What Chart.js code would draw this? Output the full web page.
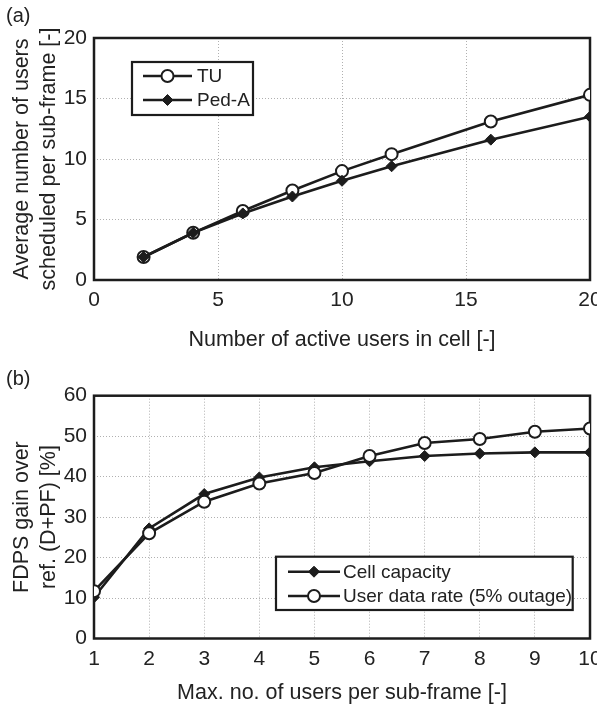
<!DOCTYPE html>
<html>
<head>
<meta charset="utf-8">
<script src="https://cdn.jsdelivr.net/npm/chart.js@4"></script>
<style>
body { margin: 0; width: 597px; height: 709px; overflow: hidden; background: #fff; position: relative; font-family: "Liberation Sans", Arial, sans-serif; }
canvas { position: absolute; left: 0; }
.lab { position: absolute; left: 6px; font-size: 20px; color: #222; }
</style>
</head>
<body>
<canvas id="chartA" width="620" height="360" style="top:0"></canvas>
<canvas id="chartB" width="620" height="353" style="top:356px"></canvas>
<div class="lab" style="top:4px">(a)</div>
<div class="lab" style="top:367px">(b)</div>
<script>
// (a) scheduled users vs active users
var activeUsers = [2, 4, 6, 8, 10, 12, 16, 20];
var tuUsers = [1.9, 3.9, 5.7, 7.4, 9.0, 10.4, 13.1, 15.3];
var pedAUsers = [1.9, 3.9, 5.5, 6.9, 8.2, 9.4, 11.6, 13.5];

// (b) FDPS gain vs max users per sub-frame
var maxUsers = [1, 2, 3, 4, 5, 6, 7, 8, 9, 10];
var cellCapacity = [10.2, 27.2, 35.7, 39.8, 42.3, 43.8, 45.1, 45.7, 46.0, 46.0];
var userRate = [11.7, 26.0, 33.8, 38.3, 40.9, 45.1, 48.3, 49.3, 51.1, 51.9];

var ink = '#1c1c1c';
var textCol = '#222';

function pts(xs, ys) {
    return xs.map(function(x, i) { return {x: x, y: ys[i]}; });
}

function circleSet(label, data, order) {
    return {
        label: label, data: data, order: order,
        borderColor: ink, borderWidth: 2.6,
        pointStyle: 'circle', pointRadius: 6, pointBorderWidth: 2,
        pointBackgroundColor: '#fff', pointBorderColor: ink
    };
}

function diamondSet(label, data, order) {
    return {
        label: label, data: data, order: order,
        borderColor: ink, borderWidth: 2.6,
        pointStyle: 'rectRot', pointRadius: 5.5, pointBorderWidth: 1,
        pointBackgroundColor: ink, pointBorderColor: ink
    };
}

// frame round the plot area + boxed legend inside it
var framePlugin = {
    id: 'frame',
    beforeDatasetsDraw: function(chart) {
        var a = chart.chartArea, ctx = chart.ctx;
        ctx.save();
        ctx.strokeStyle = ink;
        ctx.lineWidth = 2.5;
        ctx.strokeRect(a.left, a.top, a.right - a.left, a.bottom - a.top);
        ctx.restore();
    },
    afterDatasetsDraw: function(chart, args, opts) {
        var ctx = chart.ctx, b = opts.box;
        ctx.save();
        ctx.fillStyle = '#fff';
        ctx.fillRect(b[0], b[1], b[2], b[3]);
        ctx.strokeStyle = ink;
        ctx.lineWidth = 2.2;
        ctx.strokeRect(b[0], b[1], b[2], b[3]);
        chart.data.datasets.forEach(function(ds, i) {
            var y = opts.rows[i];
            ctx.strokeStyle = ink;
            ctx.lineWidth = 2.6;
            ctx.beginPath();
            ctx.moveTo(opts.line[0], y);
            ctx.lineTo(opts.line[1], y);
            ctx.stroke();
            ctx.fillStyle = ds.pointBackgroundColor;
            ctx.strokeStyle = ds.pointBorderColor;
            ctx.lineWidth = ds.pointBorderWidth;
            Chart.helpers.drawPoint(ctx, {
                pointStyle: ds.pointStyle, radius: ds.pointRadius,
                borderWidth: ds.pointBorderWidth, rotation: 0
            }, (opts.line[0] + opts.line[1]) / 2, y);
            ctx.fillStyle = textCol;
            ctx.font = '19px "Liberation Sans", Arial, sans-serif';
            ctx.textBaseline = 'middle';
            ctx.textAlign = 'left';
            ctx.fillText(ds.label, opts.textX, y + 1);
        });
        ctx.restore();
    }
};

function axes(xMin, xMax, xStep, yMin, yMax, yStep, xTitle, yTitle, xHeight, xPadB) {
    var gridDash = {display: false, dash: [1, 2]};
    return {
        x: {
            type: 'linear', min: xMin, max: xMax,
            ticks: {stepSize: xStep, padding: 8, color: textCol, font: {size: 21}},
            grid: {color: '#b0b0b0', drawTicks: false},
            border: gridDash,
            title: {display: true, text: xTitle, color: textCol, font: {size: 21.5}, padding: {top: 0, bottom: xPadB}},
            afterFit: function(s) { s.height = xHeight; }
        },
        y: {
            min: yMin, max: yMax,
            ticks: {stepSize: yStep, padding: 7, color: textCol, font: {size: 21}},
            grid: {color: '#b0b0b0', drawTicks: false},
            border: gridDash,
            title: {display: true, text: yTitle, color: textCol, font: {size: 21.5, lineHeight: 1.25}, padding: {top: 9, bottom: 0}},
            afterFit: function(s) { s.width = 94; }
        }
    };
}

Chart.defaults.font.family = '"Liberation Sans", Arial, sans-serif';

new Chart(document.getElementById('chartA'), {
    type: 'line',
    data: {
        datasets: [
            circleSet('TU', pts(activeUsers, tuUsers), 1),
            diamondSet('Ped-A', pts(activeUsers, pedAUsers), 0)
        ]
    },
    options: {
        responsive: false, animation: false,
        layout: {padding: {left: 0, right: 30, top: 38, bottom: 0}},
        scales: axes(0, 20, 5, 0, 20, 5, 'Number of active users in cell [-]',
            ['Average number of users', 'scheduled per sub-frame [-]'], 80, 7.1),
        plugins: {
            legend: {display: false}, tooltip: {enabled: false},
            frame: {box: [132, 62, 121, 53], rows: [76, 100], line: [143, 192], textX: 197}
        }
    },
    plugins: [framePlugin]
});

new Chart(document.getElementById('chartB'), {
    type: 'line',
    data: {
        datasets: [
            diamondSet('Cell capacity', pts(maxUsers, cellCapacity), 1),
            circleSet('User data rate (5% outage)', pts(maxUsers, userRate), 0)
        ]
    },
    options: {
        responsive: false, animation: false,
        layout: {padding: {left: 0, right: 30, top: 39.7, bottom: 0}},
        scales: axes(1, 10, 1, 0, 60, 10, 'Max. no. of users per sub-frame [-]',
            ['FDPS gain over', 'ref. (D+PF) [%]'], 70.5, 3.1),
        plugins: {
            legend: {display: false}, tooltip: {enabled: false},
            frame: {box: [276, 200.7, 296.7, 53.3], rows: [215.7, 240], line: [288, 340], textX: 343}
        }
    },
    plugins: [framePlugin]
});
</script>
</body>
</html>
